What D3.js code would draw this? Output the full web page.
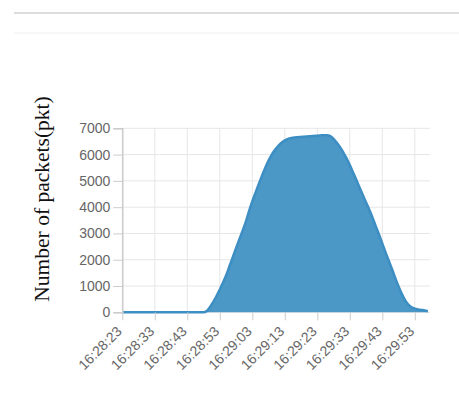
<!DOCTYPE html>
<html>
<head>
<meta charset="utf-8">
<script src="https://cdn.jsdelivr.net/npm/d3@7/dist/d3.min.js"></script>
<style>
  html, body { margin: 0; padding: 0; background: #fff; }
  svg { display: block; }
</style>
</head>
<body>
<svg id="chart" width="459" height="401"></svg>
<script>
// ---- data ----
const startTime = "16:28:23";
// packets per second, one value per second from 16:28:23
const packets = [
  0,0,0,0,0,0,0,0,0,0,
  0,0,0,0,0,0,0,0,0,0,
  0,0,0,0,0,0,50,200,400,620,
  870,1130,1420,1760,2100,2440,2770,3100,3440,3850,
  4220,4550,4880,5200,5500,5770,6000,6180,6330,6450,
  6540,6600,6630,6650,6660,6670,6680,6690,6700,6710,
  6720,6730,6740,6740,6700,6600,6450,6280,6080,5860,
  5600,5320,5040,4750,4460,4180,3900,3600,3270,2950,
  2620,2280,1960,1640,1300,980,700,460,290,190,
  140,110,90,70,40
];
const xTickLabels = ["16:28:23","16:28:33","16:28:43","16:28:53","16:29:03","16:29:13","16:29:23","16:29:33","16:29:43","16:29:53"];
const yTicks = [0,1000,2000,3000,4000,5000,6000,7000];
const yTitle = "Number of packets(pkt)";

// ---- setup ----
const parse = d3.timeParse("%H:%M:%S");
const t0 = parse(startTime);
const data = packets.map((v, i) => ({ t: d3.timeSecond.offset(t0, i), v }));
const tickDates = xTickLabels.map(parse);

const svg = d3.select("#chart");

// top decorative lines
svg.append("line").attr("x1", 14).attr("x2", 459).attr("y1", 13).attr("y2", 13)
  .attr("stroke", "#dcdcdc").attr("stroke-width", 2);
svg.append("line").attr("x1", 14).attr("x2", 459).attr("y1", 33).attr("y2", 33)
  .attr("stroke", "#f4f4f4").attr("stroke-width", 1.5);

const m = { left: 122.3, right: 430, top: 128.3, bottom: 312.3 };

const x = d3.scaleTime()
  .domain([t0, d3.timeSecond.offset(t0, packets.length - 1)])
  .range([m.left, m.left + 3.25 * (packets.length - 1)]);
const y = d3.scaleLinear().domain([0, 7000]).range([m.bottom, m.top]);

// grid
const g = svg.append("g");
g.selectAll("line.h").data(yTicks).join("line")
  .attr("x1", m.left).attr("x2", m.right)
  .attr("y1", d => y(d)).attr("y2", d => y(d))
  .attr("stroke", "#e6e6e6").attr("stroke-width", 1);
g.selectAll("line.v").data(tickDates).join("line")
  .attr("x1", d => x(d)).attr("x2", d => x(d))
  .attr("y1", m.top).attr("y2", m.bottom)
  .attr("stroke", "#e6e6e6").attr("stroke-width", 1);

// area
const area = d3.area().x(d => x(d.t)).y0(y(0)).y1(d => y(d.v)).curve(d3.curveMonotoneX);
const line = d3.line().x(d => x(d.t)).y(d => y(d.v)).curve(d3.curveMonotoneX);
svg.append("path").datum(data).attr("d", area).attr("fill", "#4b98c6");
svg.append("path").datum(data).attr("d", line).attr("fill", "none")
  .attr("stroke", "#3d8ec3").attr("stroke-width", 2.5);

// y axis
const yAxis = svg.append("g").attr("transform", `translate(${m.left},0)`)
  .call(d3.axisLeft(y).tickValues(yTicks).tickSize(9).tickPadding(3).tickFormat(d3.format("d")));
yAxis.select(".domain").attr("stroke", "#cccccc").attr("stroke-width", 1.5);
yAxis.selectAll(".tick line").attr("stroke", "#cccccc");
yAxis.selectAll("text").attr("fill", "#666").style("font-family", "Liberation Sans, Arial, sans-serif").style("font-size", "14px");

// x axis
const xAxis = svg.append("g").attr("transform", `translate(0,${m.bottom})`)
  .call(d3.axisBottom(x).tickValues(tickDates).tickSize(8).tickFormat((d, i) => xTickLabels[i]));
xAxis.select(".domain").remove();
xAxis.selectAll(".tick line").attr("stroke", "#cccccc");
xAxis.selectAll("text")
  .attr("fill", "#666")
  .style("font-family", "Liberation Sans, Arial, sans-serif").style("font-size", "14px")
  .attr("text-anchor", "end")
  .attr("x", 0).attr("y", 0).attr("dy", 0)
  .attr("transform", "translate(0,20) rotate(-45)");

// y title
svg.append("text")
  .attr("transform", `translate(49,199) rotate(-90)`)
  .attr("text-anchor", "middle")
  .style("font-family", "Liberation Serif, Times New Roman, serif")
  .style("font-size", "21.5px")
  .attr("fill", "#111")
  .text(yTitle);
</script>
</body>
</html>
